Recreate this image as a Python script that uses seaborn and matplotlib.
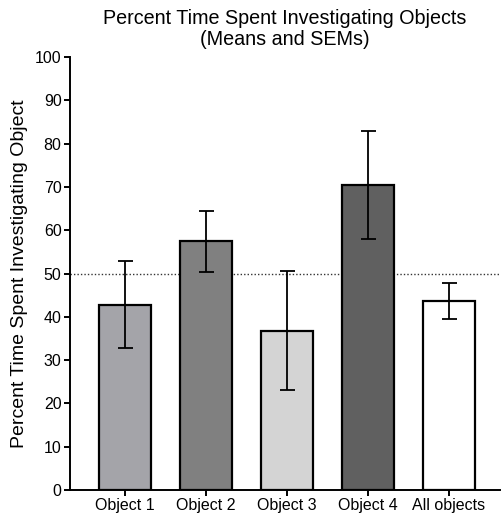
import matplotlib
matplotlib.use("Agg")
import matplotlib.pyplot as plt
import seaborn as sns
import pandas as pd

categories = ["Object 1", "Object 2", "Object 3", "Object 4", "All objects"]
means = [42.8, 57.4, 36.8, 70.4, 43.6]
sems = [10.0, 7.1, 13.8, 12.4, 4.2]
bar_colors = ["#a4a4a9", "#808080", "#d4d4d4", "#606060", "#ffffff"]
chance_level = 50
y_ticks = list(range(0, 101, 10))

sns.set_theme(style="ticks")
plt.rcParams["font.family"] = ["Liberation Sans", "DejaVu Sans"]
plt.rcParams["text.color"] = "black"
plt.rcParams["axes.labelcolor"] = "black"

df = pd.DataFrame({"category": categories, "mean": means, "sem": sems})

fig = plt.figure(figsize=(5.03, 5.23), dpi=100)
ax = fig.add_axes([0.139, 0.063, 0.855, 0.828])

sns.barplot(data=df, x="category", y="mean", hue="category",
            palette=bar_colors, legend=False, errorbar=None,
            width=0.65, edgecolor="black", linewidth=1.6, ax=ax,
            saturation=1)

ax.errorbar(range(len(categories)), means, yerr=sems, fmt="none",
            ecolor="black", elinewidth=1.3, capsize=5.4, capthick=1.3,
            zorder=5)

ax.axhline(chance_level, color="#333333", linestyle=(0, (1, 1.5)),
           linewidth=1.0, zorder=0.5)

ax.set_ylim(0, 100)
ax.set_xlim(-0.68, 4.63)
ax.set_yticks(y_ticks)
ax.set_xlabel("")
ax.set_ylabel("Percent Time Spent Investigating Object", fontsize=14,
              labelpad=5, color="black")
ax.set_title("Percent Time Spent Investigating Objects\n(Means and SEMs)",
             fontsize=14.2, pad=9, linespacing=1.1, color="black")

for side in ["top", "right"]:
    ax.spines[side].set_visible(False)
for side in ["left", "bottom"]:
    ax.spines[side].set_linewidth(1.4)
    ax.spines[side].set_color("black")

ax.tick_params(axis="both", direction="out", length=4, width=1.4,
               colors="black", labelsize=11.5, pad=2)

fig.savefig("out.png", dpi=100)
